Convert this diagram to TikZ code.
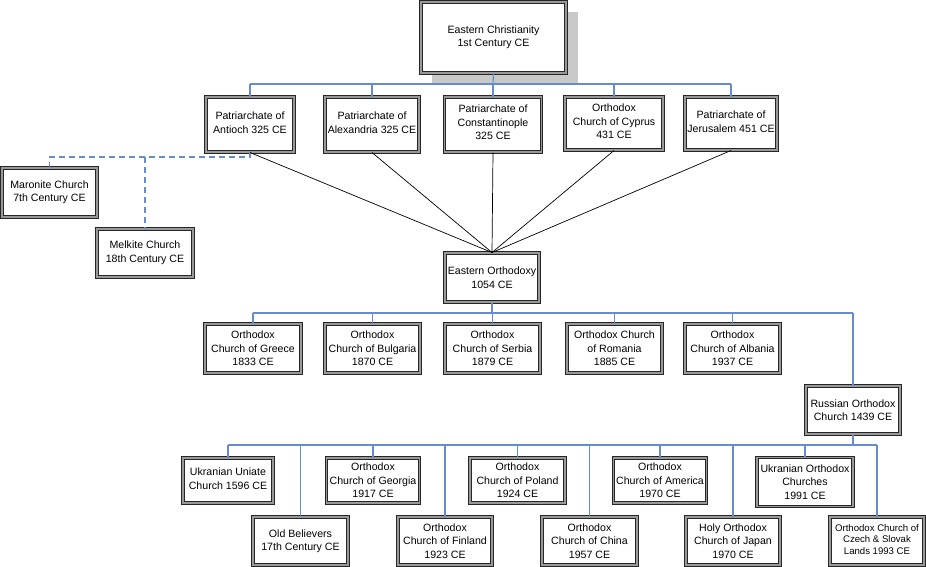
\documentclass[tikz,border=0pt]{standalone}
\usepackage{fontspec}
\setmainfont{Liberation Sans}
\usepackage{tikz}
\usetikzlibrary{positioning}
\usepackage{xcolor}

\definecolor{linkblue}{RGB}{102,140,204}
\definecolor{shadowgray}{RGB}{200,200,200}

\tikzset{
    church/.style={draw=black!85, double=black!40, double distance=1.2pt, line width=1pt,
        fill=white, align=center, inner sep=1pt,
        font=\fontsize{10.6}{13.5}\selectfont},
    toptext/.style={execute at end node={\\[#1]\strut}},
    toptext/.default=0pt,
    bus/.style={linkblue, line width=1.1pt},
    dashbus/.style={linkblue, line width=1.1pt, dash pattern=on 6pt off 4pt},
    split/.style={black, line width=0.7pt}
}

\begin{document}
\begin{tikzpicture}[x=1pt, y=-1pt]
    \useasboundingbox (0,0) rectangle (926,566);

    % Shadow behind the top box
    \fill[shadowgray] (432,12) rectangle (578,84);

    % Bus positions
    \coordinate (bus1) at (493,84);
    \coordinate (dash1) at (250,157);
    \coordinate (bus2) at (492,313);
    \coordinate (bus3) at (853,445);

    % Top
    \node[church, minimum width=145pt, minimum height=71pt] (ec) at (493.5,37.5) {Eastern Christianity\\1st Century CE};

    % Patriarchates
    \node[church, toptext=6pt, minimum width=88pt, minimum height=55pt] (ant) at (250,124.5) {Patriarchate of\\Antioch 325 CE};
    \node[church, toptext=6pt, minimum width=94pt, minimum height=55pt] (alex) at (372,124.5) {Patriarchate of\\Alexandria 325 CE};
    \node[church, toptext=6pt, minimum width=97pt, minimum height=55pt] (con) at (493,124.5) {Patriarchate of\\Constantinople\\325 CE};
    \node[church, toptext=6pt, minimum width=98pt, minimum height=53pt] (cyp) at (614,123.5) {Orthodox\\Church of Cyprus\\431 CE};
    \node[church, toptext=6pt, minimum width=92pt, minimum height=53pt] (jer) at (731,123.5) {Patriarchate of\\Jerusalem 451 CE};

    % Antioch offshoots
    \node[church, minimum width=95pt, minimum height=49pt] (mar) at (49.5,192.5) {Maronite Church\\7th Century CE};
    \node[church, minimum width=96pt, minimum height=48pt] (mel) at (145,253) {Melkite Church\\18th Century CE};

    % Schism
    \node[church, minimum width=94pt, minimum height=49pt] (eo) at (492,277.5) {Eastern Orthodoxy\\1054 CE};

    % National churches
    \node[church, minimum width=96pt, minimum height=49pt] (gre) at (253,348.5) {Orthodox\\Church of Greece\\1833 CE};
    \node[church, minimum width=95pt, minimum height=49pt] (bul) at (372.5,348.5) {Orthodox\\Church of Bulgaria\\1870 CE};
    \node[church, minimum width=95pt, minimum height=49pt] (ser) at (492.5,348.5) {Orthodox\\Church of Serbia\\1879 CE};
    \node[church, minimum width=95pt, minimum height=49pt] (rom) at (614.5,348.5) {Orthodox Church\\of Romania\\1885 CE};
    \node[church, minimum width=95pt, minimum height=49pt] (alb) at (732.5,348.5) {Orthodox\\Church of Albania\\1937 CE};

    \node[church, minimum width=94pt, minimum height=48pt] (rus) at (853,410) {Russian Orthodox\\Church 1439 CE};

    % Russian offshoots, upper row
    \node[church, toptext, minimum width=90pt, minimum height=45pt] (uni) at (228,480.5) {Ukranian Uniate\\Church 1596 CE};
    \node[church, minimum width=93pt, minimum height=45pt] (geo) at (373,480.5) {Orthodox\\Church of Georgia\\1917 CE};
    \node[church, minimum width=95pt, minimum height=45pt] (pol) at (517.5,480.5) {Orthodox\\Church of Poland\\1924 CE};
    \node[church, minimum width=93pt, minimum height=45pt] (ame) at (660,480.5) {Orthodox\\Church of America\\1970 CE};
    \node[church, minimum width=96pt, minimum height=49pt] (uko) at (805,482) {Ukranian Orthodox\\Churches\\1991 CE};

    % Russian offshoots, lower row
    \node[church, minimum width=95pt, minimum height=48pt] (old) at (300.5,541) {Old Believers\\17th Century CE};
    \node[church, minimum width=94pt, minimum height=48pt] (fin) at (445,541) {Orthodox\\Church of Finland\\1923 CE};
    \node[church, minimum width=95pt, minimum height=48pt] (chi) at (589.5,541) {Orthodox\\Church of China\\1957 CE};
    \node[church, minimum width=94pt, minimum height=48pt] (jap) at (733,541) {Holy Orthodox\\Church of Japan\\1970 CE};
    \node[church, toptext, minimum width=94pt, minimum height=48pt, font=\fontsize{9.6}{11.5}\selectfont] (cze) at (877,541) {Orthodox Church of\\Czech \& Slovak\\Lands 1993 CE};

    % Connectors from the top
    \draw[bus] (ec.south) -- (bus1);
    \draw[bus] (ant.north |- bus1) -- (jer.north |- bus1);
    \foreach \n in {ant,alex,con,cyp,jer}
        \draw[bus] (\n.north |- bus1) -- (\n.north);

    % Dashed links from Antioch
    \draw[dashbus] (ant.south) -- (dash1) -| (mar.north);
    \draw[dashbus] (mel.north |- dash1) -- (mel.north);

    % Into Eastern Orthodoxy
    \foreach \n in {ant,alex,con,cyp,jer}
        \draw[split] (\n.south) -- (eo.north);

    % Eastern Orthodoxy children
    \draw[bus] (eo.south) -- (bus2);
    \draw[bus] (gre.north |- bus2) -- (rus.north |- bus2);
    \foreach \n in {gre,bul,ser,rom,alb,rus}
        \draw[bus] (\n.north |- bus2) -- (\n.north);

    % Russian children
    \draw[bus] (rus.south) -- (bus3);
    \draw[bus] (uni.north |- bus3) -- (cze.north |- bus3);
    \foreach \n in {uni,old,geo,fin,pol,chi,ame,jap,uko,cze}
        \draw[bus] (\n.north |- bus3) -- (\n.north);
\end{tikzpicture}
\end{document}
